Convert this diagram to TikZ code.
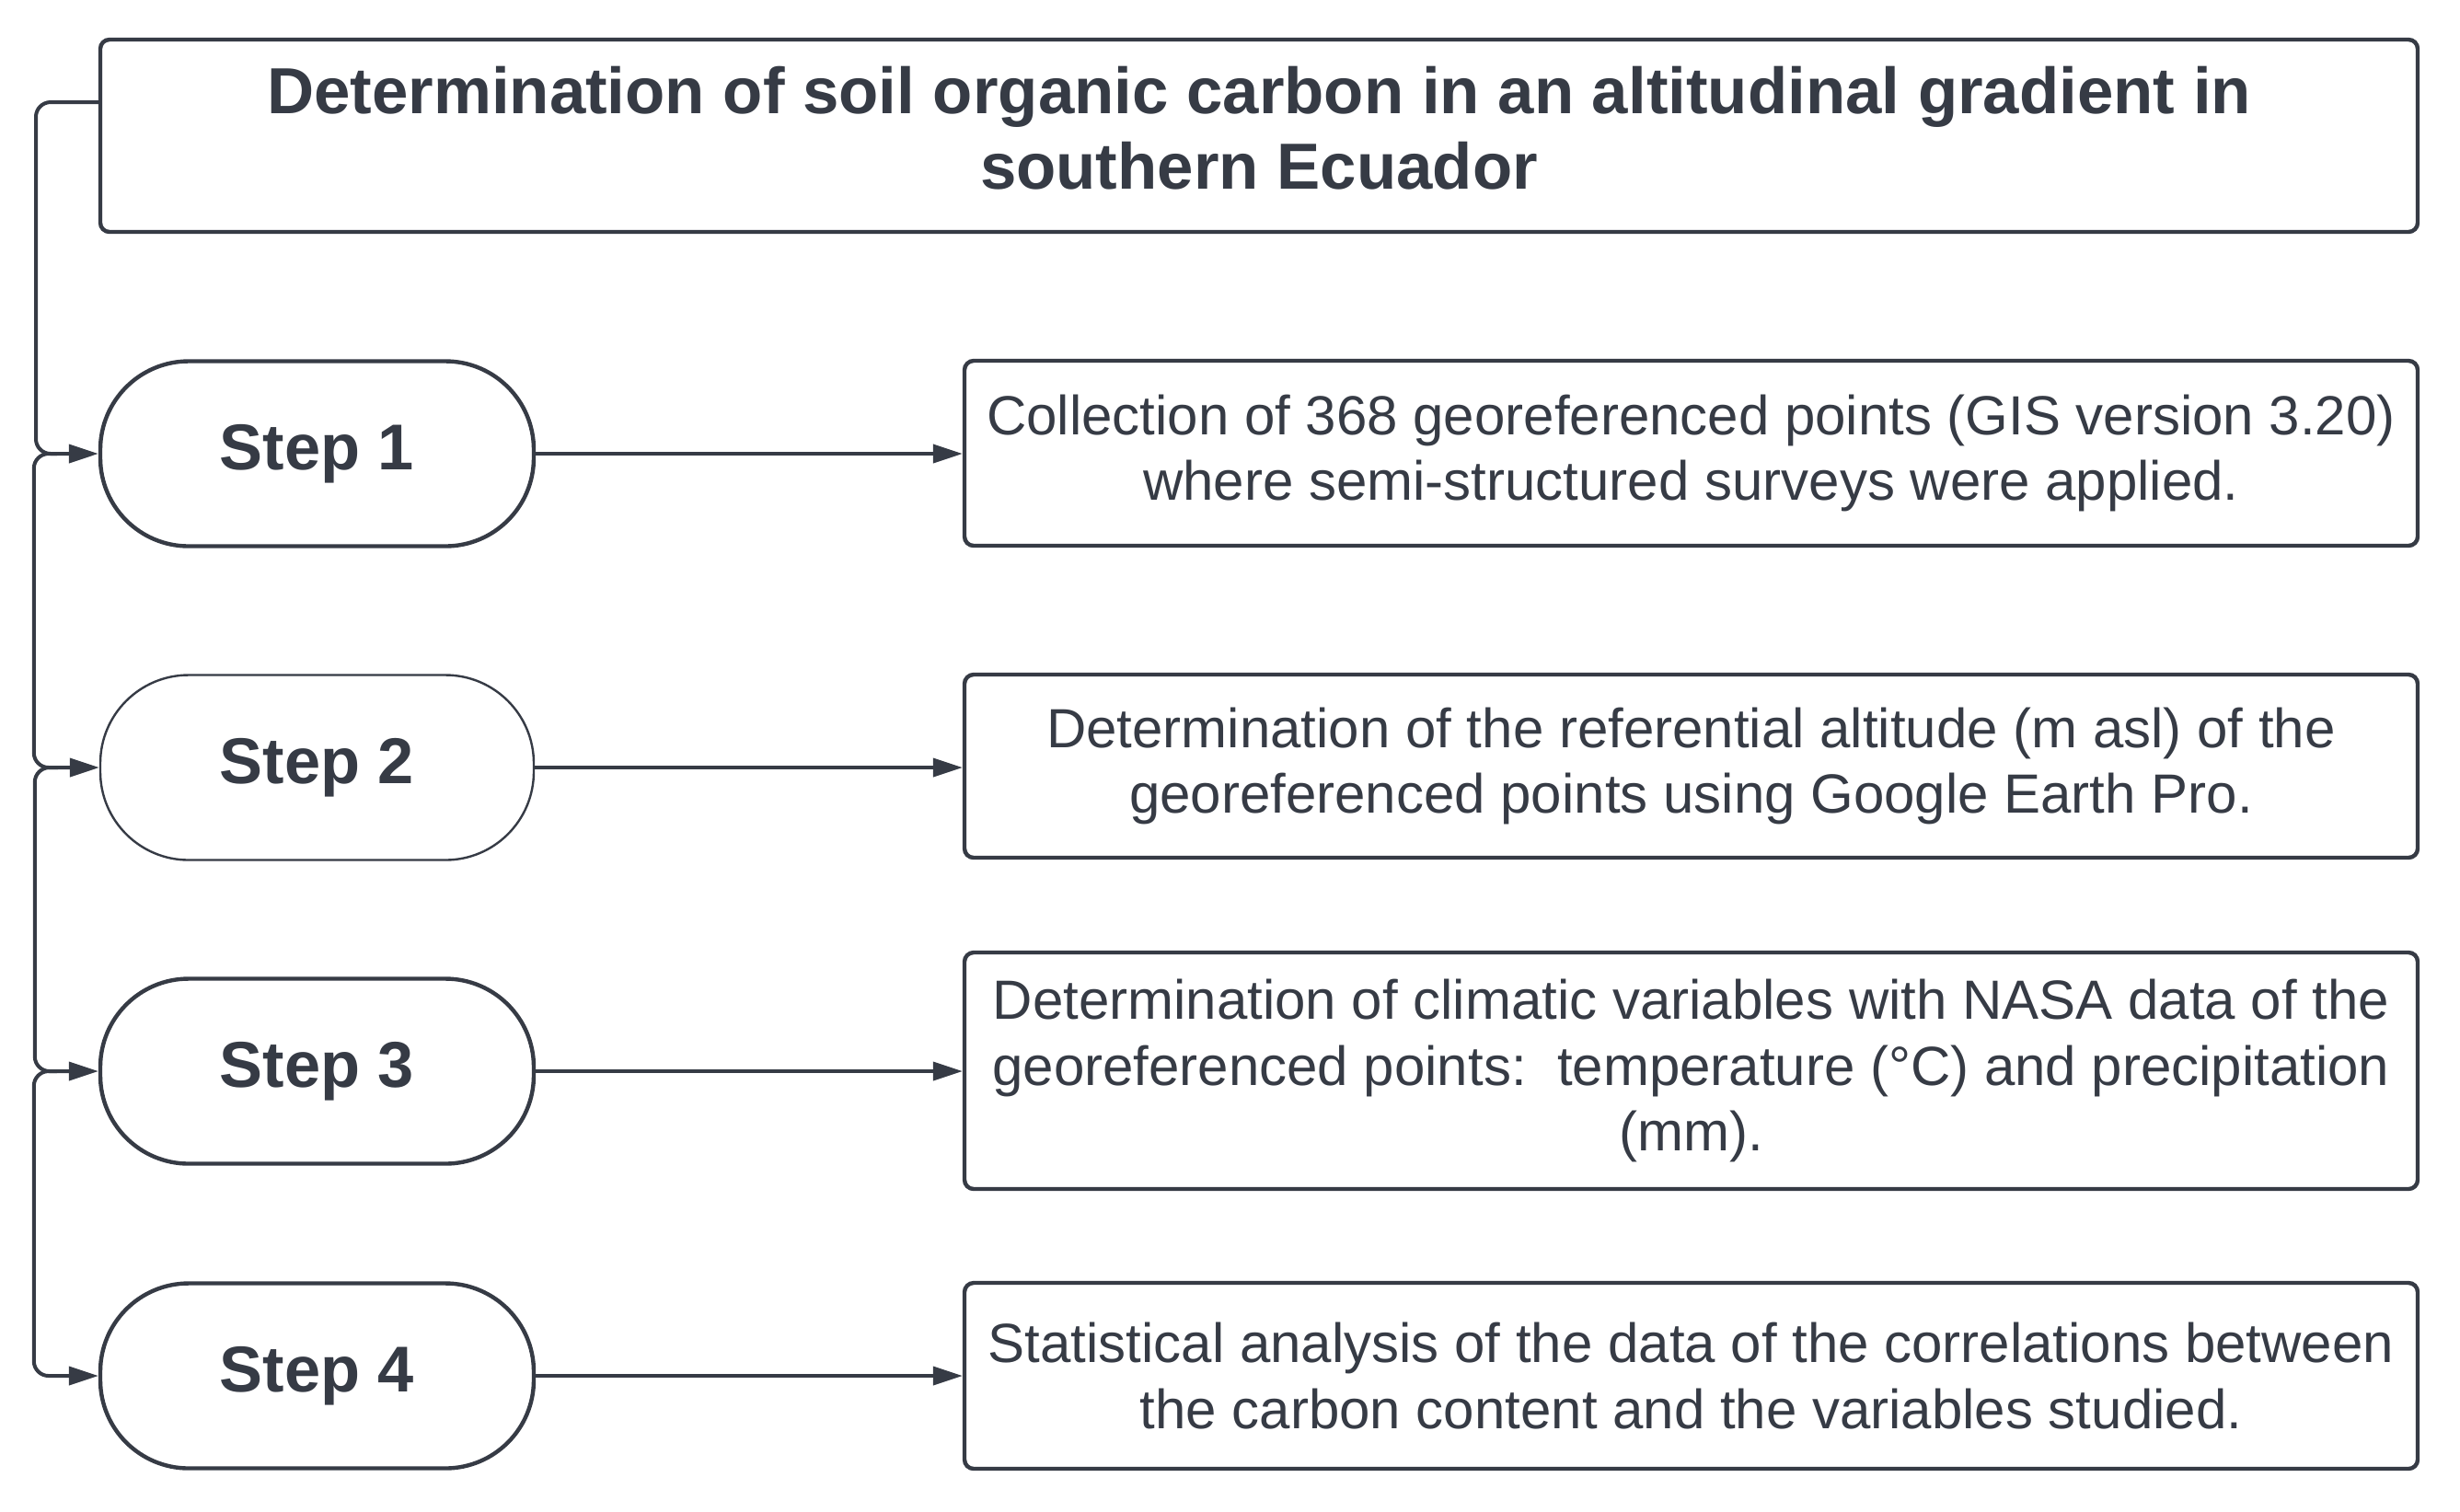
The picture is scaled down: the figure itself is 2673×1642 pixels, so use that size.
\documentclass[tikz,border=0pt]{standalone}
\usepackage{fontspec}
\setmainfont{Liberation Sans}
\usetikzlibrary{arrows.meta,calc}
\definecolor{ink}{HTML}{363B45}
\begin{document}
\begin{tikzpicture}[x=0.25pt,y=-0.25pt,
  every node/.style={text=ink},
  titlebox/.style={draw=ink,line width=1.1pt,rounded corners=2.5pt,minimum width=629.5pt,minimum height=52.25pt,inner sep=0pt},
  titletext/.style={inner sep=0pt,align=center,font=\bfseries\fontsize{17.7}{20.5}\selectfont},
  pill/.style={draw=ink,line width=1.1pt,rounded corners=24pt,minimum width=117.75pt,minimum height=50.25pt,inner sep=0pt,font=\bfseries\fontsize{17.6}{20.5}\selectfont},
  infobox/.style={draw=ink,line width=1.1pt,rounded corners=2.5pt,minimum width=394.75pt,inner sep=0pt,align=center,font=\fontsize{15}{17.9}\selectfont},
  conn/.style={draw=ink,line width=1pt,-{Triangle[length=8pt,width=5pt]}},
  bus/.style={conn,rounded corners=4pt}]
\useasboundingbox (0,0) rectangle (2673,1642);
\node[titlebox] (title) at (1368,147.5) {};
\node[titletext] (titletxt) at ([yshift=2.2pt]title.center) {Determination of soil organic carbon in an altitudinal gradient in\\southern Ecuador};
\node[pill] (s1) at (344.5,493) {Step 1};
\node[pill,line width=0.6pt] (s2) at (344.5,834) {Step 2};
\node[pill] (s3) at (344.5,1164) {Step 3};
\node[pill] (s4) at (344.5,1495) {Step 4};
\node[infobox,minimum height=50.25pt] (b1) at (1837.5,492.5) {Collection of 368 georeferenced points (GIS version 3.20)\\where semi-structured surveys were applied.};
\node[infobox,minimum height=49.75pt] (b2) at (1837.5,832.5) {Determination of the referential altitude (m asl) of the\\georeferenced points using Google Earth Pro.};
\node[infobox,minimum height=64.25pt] (b3) at (1837.5,1163.5) {Determination of climatic variables with NASA data of the\\georeferenced points:\ \ temperature (°C) and precipitation\\(mm).};
\node[infobox,minimum height=50.5pt] (b4) at (1837.5,1495) {Statistical analysis of the data of the correlations between\\the carbon content and the variables studied.};
\coordinate (t0) at (109,111);
\draw[conn] (s1.east) -- (b1.west |- s1.east);
\draw[conn] (s2.east) -- (b2.west |- s2.east);
\draw[conn] (s3.east) -- (b3.west |- s3.east);
\draw[conn] (s4.east) -- (b4.west |- s4.east);
\draw[bus] (t0) -- ++(-70,0) |- (s1.west);
\draw[bus] ($(s1.west)+(-45,0)$) -- ($(s1.west)+(-70,0)$) |- (s2.west);
\draw[bus] ($(s2.west)+(-45,0)$) -- ($(s2.west)+(-70,0)$) |- (s3.west);
\draw[bus] ($(s3.west)+(-45,0)$) -- ($(s3.west)+(-70,0)$) |- (s4.west);
\end{tikzpicture}
\end{document}
